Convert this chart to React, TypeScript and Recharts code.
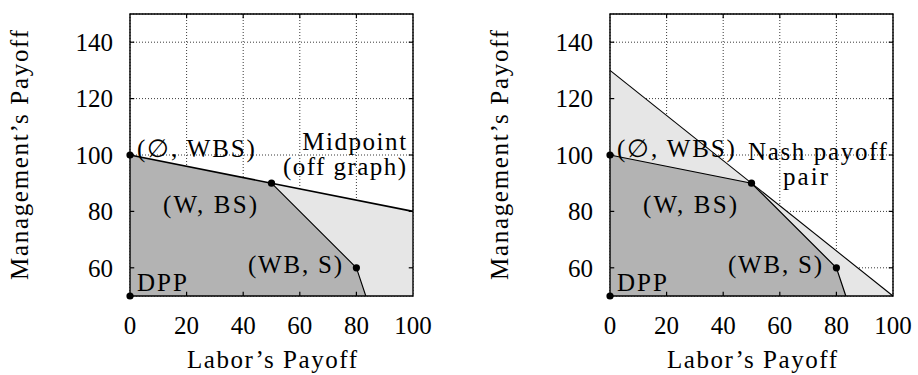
import React from 'react';
import { ComposedChart, Area, Line, Scatter, XAxis, YAxis, CartesianGrid, ReferenceArea, ReferenceLine, Label } from 'recharts';

const xTicks = [0, 20, 40, 60, 80, 100];
const yTicks = [60, 80, 100, 120, 140];

// feasible payoff region (dark) and its frontier
const feasibleRegion = [
  { x: 0, y: 100 },
  { x: 50, y: 90 },
  { x: 80, y: 60 },
  { x: 83.33, y: 50 },
];
// left panel: extension toward the midpoint (light)
const midpointRegion = [
  { x: 50, y: 90 },
  { x: 100, y: 80 },
];
// right panel: Nash bargaining line region (light)
const nashRegion = [
  { x: 0, y: 130 },
  { x: 100, y: 50 },
];

const upperFrontierLeft = [
  { x: 0, y: 100 },
  { x: 50, y: 90 },
  { x: 100, y: 80 },
];
const lowerFrontierLeft = [
  { x: 50, y: 90 },
  { x: 80, y: 60 },
  { x: 83.33, y: 50 },
];
const nashLine = [
  { x: 0, y: 130 },
  { x: 100, y: 50 },
];
const frontierRight = [
  { x: 0, y: 100 },
  { x: 50, y: 90 },
  { x: 80, y: 60 },
  { x: 83.33, y: 50 },
];

const payoffPoints = [
  { x: 0, y: 50 },
  { x: 0, y: 100 },
  { x: 50, y: 90 },
  { x: 80, y: 60 },
];

const labelsLeft = [
  { x: 23.3, y: 99.3, text: '(∅, WBS)' },
  { x: 79.2, y: 101.8, text: 'Midpoint' },
  { x: 75.8, y: 92.9, text: '(off graph)' },
  { x: 28.3, y: 79.4, text: '(W, BS)' },
  { x: 58.3, y: 58.3, text: '(WB, S)' },
  { x: 11.3, y: 51.6, text: 'DPP' },
];
const labelsRight = [
  { x: 23.3, y: 99.3, text: '(∅, WBS)' },
  { x: 73.3, y: 98.2, text: 'Nash payoff' },
  { x: 69.1, y: 89.2, text: 'pair' },
  { x: 28.3, y: 79.4, text: '(W, BS)' },
  { x: 58.3, y: 58.3, text: '(WB, S)' },
  { x: 11.3, y: 51.6, text: 'DPP' },
];

const xTitle = "Labor’s Payoff";
const yTitle = "Management’s Payoff";

const FONT = 'Liberation Serif';
const DARK = '#b3b3b3';
const LIGHT = '#e6e6e6';
const X_MIN = 0, X_MAX = 100, Y_MIN = 50, Y_MAX = 150;
const TICK_LEN = 1.5; // inward tick length in data units

const textWidths: Record<string, number> = {
  '(∅, WBS)': 118,
  'Midpoint': 104,
  '(off graph)': 123,
  '(W, BS)': 94,
  '(WB, S)': 94,
  'DPP': 50,
  'Nash payoff': 139,
  'pair': 45,
};

const TextShape = (p: any) => (
  <text
    x={p.cx}
    y={p.cy}
    textAnchor="middle"
    fontFamily={FONT}
    fontSize={25}
    fill="#000"
    textLength={textWidths[p.payload.text]}
    lengthAdjust="spacing"
  >
    {p.payload.text}
  </text>
);

const DotShape = (p: any) => <circle cx={p.cx} cy={p.cy} r={3.6} fill="#000" />;

const innerXTicks = xTicks.filter((t) => t > X_MIN && t < X_MAX);
const tickSegments = [
  ...innerXTicks.map((t) => [{ x: t, y: Y_MIN }, { x: t, y: Y_MIN + TICK_LEN }]),
  ...innerXTicks.map((t) => [{ x: t, y: Y_MAX }, { x: t, y: Y_MAX - TICK_LEN }]),
  ...yTicks.map((t) => [{ x: X_MIN, y: t }, { x: X_MIN + TICK_LEN, y: t }]),
  ...yTicks.map((t) => [{ x: X_MAX, y: t }, { x: X_MAX - TICK_LEN, y: t }]),
];

type PanelProps = {
  width: number;
  right: number;
  lightRegion: { x: number; y: number }[];
  lines: { data: { x: number; y: number }[]; w: number }[];
  labels: { x: number; y: number; text: string }[];
};

const Panel = ({ width, right, lightRegion, lines, labels }: PanelProps) => (
  <ComposedChart width={width} height={375} margin={{ top: 14, right, bottom: 49, left: 70 }}>
    <XAxis
      type="number"
      dataKey="x"
      domain={[X_MIN, X_MAX]}
      ticks={xTicks}
      interval={0}
      axisLine={false}
      tickLine={false}
      tickSize={18}
      tickMargin={2}
      height={30}
      tick={{ fontSize: 25, fill: '#000', fontFamily: FONT }}
    >
      <Label
        content={() => (
          <text x={272} y={368} textAnchor="middle" fontFamily={FONT} fontSize={25} fill="#000" textLength={170} lengthAdjust="spacing">
            {xTitle}
          </text>
        )}
      />
    </XAxis>
    <YAxis
      type="number"
      dataKey="y"
      domain={[Y_MIN, Y_MAX]}
      ticks={yTicks}
      interval={0}
      axisLine={false}
      tickLine={false}
      tickSize={15}
      tickMargin={2}
      width={60}
      tick={{ fontSize: 25, fill: '#000', fontFamily: FONT }}
    >
      <Label
        content={() => (
          <text x={28} y={155} transform="rotate(-90 28 155)" textAnchor="middle" fontFamily={FONT} fontSize={25} fill="#000" textLength={250} lengthAdjust="spacing">
            {yTitle}
          </text>
        )}
      />
    </YAxis>
    <Area data={lightRegion} dataKey="y" type="linear" baseValue={Y_MIN} stroke="none" fill={LIGHT} fillOpacity={1} isAnimationActive={false} dot={false} activeDot={false} />
    <Area data={feasibleRegion} dataKey="y" type="linear" baseValue={Y_MIN} stroke="none" fill={DARK} fillOpacity={1} isAnimationActive={false} dot={false} activeDot={false} />
    <CartesianGrid stroke="#222" strokeDasharray="1 2" strokeWidth={0.9} fill="none" />
    {lines.map((l, i) => (
      <Line key={i} data={l.data} dataKey="y" type="linear" stroke="#000" strokeWidth={l.w} dot={false} activeDot={false} isAnimationActive={false} />
    ))}
    {tickSegments.map((s, i) => (
      <ReferenceLine key={'t' + i} segment={s} stroke="#000" strokeWidth={1.2} ifOverflow="visible" />
    ))}
    <ReferenceArea x1={X_MIN} x2={X_MAX} y1={Y_MIN} y2={Y_MAX} fill="none" stroke="#000" strokeWidth={1.4} ifOverflow="visible" />
    <Scatter data={labels} dataKey="y" shape={TextShape} isAnimationActive={false} />
    <Scatter data={payoffPoints} dataKey="y" shape={DotShape} isAnimationActive={false} />
  </ComposedChart>
);

export default function App() {
  return (
    <div style={{ position: 'absolute', left: 0, top: 0, width: 918, height: 375, display: 'flex', background: '#fff' }}>
      <Panel
        width={480}
        right={67}
        lightRegion={midpointRegion}
        lines={[
          { data: upperFrontierLeft, w: 1.6 },
          { data: lowerFrontierLeft, w: 1.1 },
        ]}
        labels={labelsLeft}
      />
      <Panel
        width={438}
        right={25}
        lightRegion={nashRegion}
        lines={[
          { data: nashLine, w: 1.1 },
          { data: frontierRight, w: 1.2 },
        ]}
        labels={labelsRight}
      />
    </div>
  );
}
